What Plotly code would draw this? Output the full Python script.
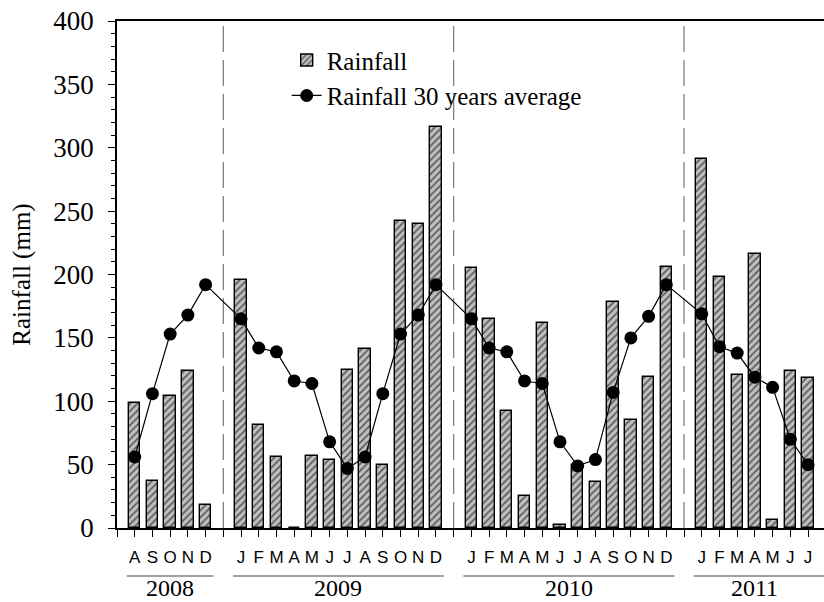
import plotly.graph_objects as go

# ---------------- data ----------------
years = ["2008", "2009", "2010", "2011"]
months_2008 = ["A", "S", "O", "N", "D"]
months_2009 = ["J", "F", "M", "A", "M", "J", "J", "A", "S", "O", "N", "D"]
months_2010 = ["J", "F", "M", "A", "M", "J", "J", "A", "S", "O", "N", "D"]
months_2011 = ["J", "F", "M", "A", "M", "J", "J"]

rain_2008 = [99, 37, 104, 124, 18]
rain_2009 = [196, 81, 56, 0, 57, 54, 125, 141, 50, 242, 240, 316]
rain_2010 = [205, 165, 92, 25, 162, 2, 50, 36, 178, 85, 119, 206]
rain_2011 = [291, 198, 121, 216, 6, 124, 118]

avg_2008 = [56, 106, 153, 168, 192]
avg_2009 = [165, 142, 139, 116, 114, 68, 47, 56, 106, 153, 168, 192]
avg_2010 = [165, 142, 139, 116, 114, 68, 49, 54, 107, 150, 167, 192]
avg_2011 = [169, 143, 138, 119, 111, 70, 50]

y_ticks = [0, 50, 100, 150, 200, 250, 300, 350, 400]

month_groups = [months_2008, months_2009, months_2010, months_2011]
rain_groups = [rain_2008, rain_2009, rain_2010, rain_2011]
avg_groups = [avg_2008, avg_2009, avg_2010, avg_2011]

# ------------- slot layout (one empty slot between years) -------------
xs, rains, avgs = [], [], []
tickvals, ticktext = [0], [""]
year_spans = []
sep_slots = []
slot = 1
for gi, (ms, rs, avs) in enumerate(zip(month_groups, rain_groups, avg_groups)):
    start = slot
    for m, r, a in zip(ms, rs, avs):
        xs.append(slot)
        rains.append(r)
        avgs.append(a)
        tickvals.append(slot)
        ticktext.append(m)
        slot += 1
    year_spans.append((start, slot - 1))
    if gi < len(month_groups) - 1:
        sep_slots.append(slot)
        tickvals.append(slot)
        ticktext.append("")
        slot += 1

x_max = 39.9

serif = "Liberation Serif, Times New Roman, serif"
sans = "Liberation Sans, Arial, sans-serif"

fig = go.Figure()
fig.add_trace(go.Bar(
    x=xs, y=rains, name="Rainfall", width=0.64,
    marker=dict(color="#c0c0c0", line=dict(color="black", width=1.4),
                pattern=dict(shape="/", fgcolor="black", bgcolor="#c0c0c0",
                             size=5, solidity=0.35)),
))
fig.add_trace(go.Scatter(
    x=xs, y=avgs, name="Rainfall 30 years average", mode="lines+markers",
    line=dict(color="black", width=1.2),
    marker=dict(color="black", size=13),
))

shapes = []
for s in sep_slots:
    shapes.append(dict(type="line", xref="x", yref="y", x0=s, x1=s, y0=0, y1=400,
                       line=dict(color="#808080", width=1.3, dash="26px,8px"),
                       layer="below"))
annotations = []
for yr, (a, b) in zip(years, year_spans):
    x0 = a - 0.45
    x1 = b + 0.45
    if yr == years[-1]:
        x1 = x_max + 1
    shapes.append(dict(type="line", xref="x", yref="paper", x0=x0, x1=x1,
                       y0=-0.0947, y1=-0.0947, line=dict(color="#808080", width=1.5)))
    annotations.append(dict(text=yr, xref="x", yref="paper", x=(a + b) / 2, y=-0.119,
                            showarrow=False, yanchor="middle", xanchor="center",
                            font=dict(family=serif, size=24, color="black")))

fig.update_layout(
    width=824, height=602,
    margin=dict(l=117, r=0, t=21, b=74),
    paper_bgcolor="white", plot_bgcolor="white",
    showlegend=True,
    legend=dict(x=0.24, y=0.968, xanchor="left", yanchor="top",
                bgcolor="rgba(0,0,0,0)", font=dict(family=serif, size=25, color="black"),
                tracegroupgap=0),
    shapes=shapes, annotations=annotations,
    bargap=0,
)
fig.update_xaxes(
    range=[0, x_max], tickmode="array", tickvals=tickvals, ticktext=ticktext,
    ticks="outside", ticklen=7, tickwidth=1.2, tickcolor="black",
    showline=True, linecolor="black", linewidth=1.5, mirror=True,
    showgrid=False, zeroline=False,
    tickfont=dict(family=sans, size=17, color="black"),
    ticklabelstandoff=6,
)
fig.update_yaxes(
    range=[0, 400], tickmode="array", tickvals=y_ticks,
    ticks="outside", ticklen=7, tickwidth=1.2, tickcolor="black",
    minor=dict(dtick=10, ticks="outside", ticklen=4, tickcolor="black", tickwidth=1.2, showgrid=False),
    showline=True, linecolor="black", linewidth=1.5,
    showgrid=False, zeroline=False,
    tickfont=dict(family=serif, size=27, color="black"),
    ticklabelstandoff=9,
    title=dict(text="Rainfall (mm)", font=dict(family=serif, size=25, color="black"), standoff=16),
)

fig.write_html("out.html", config={"displayModeBar": False},
               post_script="document.body.style.margin='0';")
